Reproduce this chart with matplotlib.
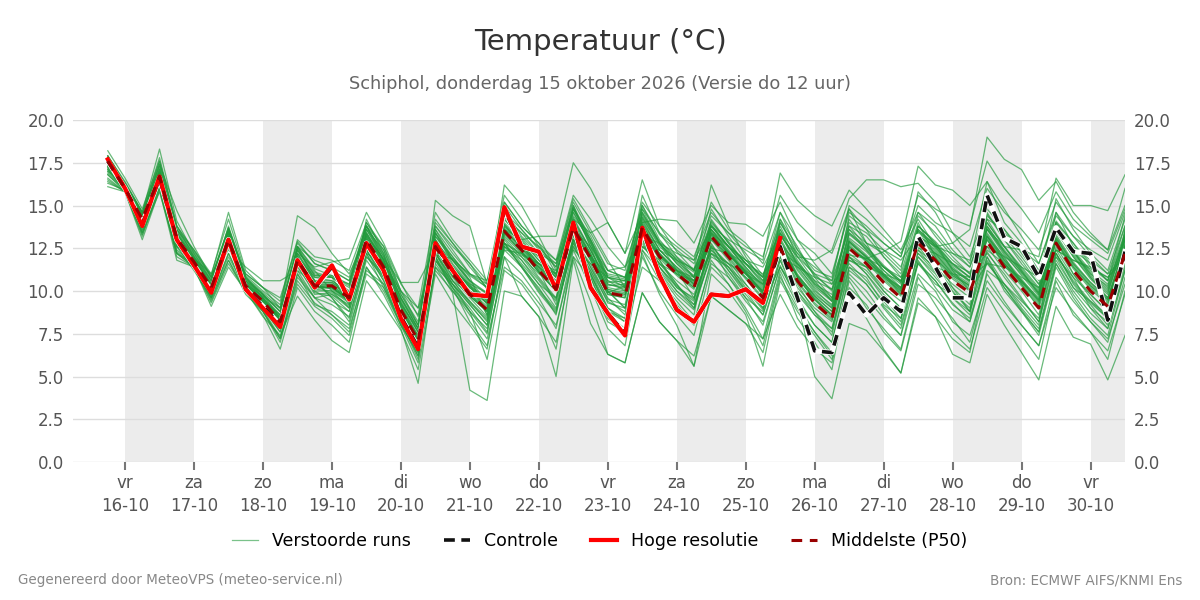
import numpy as np
import pandas as pd
import matplotlib
matplotlib.use('Agg')
import matplotlib.pyplot as plt

# 6-hourly steps, run of do 15-10 12 UTC
times = pd.date_range('2026-10-15 18:00', periods=60, freq='6h')
day_ticks = pd.date_range('2026-10-16', '2026-10-30', freq='D')
weekdays = ['ma', 'di', 'wo', 'do', 'vr', 'za', 'zo']

# hoge resolutie (runs out after 10 days)
hres = [17.7, 16.0, 13.8, 16.7, 13.0, 11.5, 9.9, 13.0, 10.1, 9.0, 7.9, 11.8, 10.2, 11.5, 9.5, 12.8, 11.2, 8.4, 6.6, 12.8,
        11.2, 9.8, 9.7, 14.9, 12.6, 12.3, 10.1, 14.0, 10.2, 8.7, 7.4, 13.7, 10.9, 8.9, 8.2, 9.8, 9.7, 10.1, 9.3, 13.1]

controle = [17.6, 16.0, 13.9, 16.6, 13.0, 11.5, 10.0, 13.0, 10.1, 9.1, 8.0, 11.8, 10.2, 11.4, 9.5, 12.8, 11.2, 8.5, 6.7, 12.7,
            11.2, 9.8, 9.7, 14.8, 12.6, 12.3, 10.1, 13.9, 10.2, 8.7, 7.5, 13.6, 10.9, 8.9, 8.2, 9.8, 9.7, 10.1, 9.3, 12.6,
            9.6, 6.5, 6.4, 9.9, 8.6, 9.6, 8.8, 13.2, 11.4, 9.6, 9.6, 15.6, 13.1, 12.6, 10.8, 13.7, 12.3, 12.2, 8.3, 12.3]

p50 = [17.6, 16.0, 14.2, 16.7, 13.1, 11.7, 10.2, 13.0, 10.3, 9.4, 8.2, 11.8, 10.3, 10.3, 9.6, 13.0, 11.4, 8.9, 7.1, 12.6,
       11.0, 9.8, 8.9, 13.5, 12.4, 11.2, 10.1, 13.7, 11.9, 9.9, 9.7, 13.7, 12.0, 11.0, 10.2, 13.2, 12.0, 10.8, 9.6, 12.5,
       10.6, 9.3, 8.4, 12.5, 11.6, 10.5, 9.6, 12.8, 11.8, 10.6, 9.9, 12.9, 11.4, 10.2, 9.0, 12.8, 11.2, 10.0, 9.1, 12.2]

# verstoorde runs (perturbed members)
members = [
    [17.8, 16.2, 14.4, 17.0, 13.4, 11.9, 10.5, 13.4, 10.6, 9.7, 8.6, 12.2, 10.8, 10.6, 9.9, 13.4, 11.8, 9.3, 7.6, 13.0,
     11.5, 10.3, 9.4, 14.0, 12.9, 11.8, 10.8, 14.3, 12.4, 10.6, 10.3, 14.3, 12.6, 11.7, 10.9, 13.8, 12.6, 11.4, 10.3, 13.1,
     11.3, 10.0, 9.2, 13.1, 12.3, 11.2, 10.4, 13.5, 12.5, 11.3, 10.6, 13.6, 12.1, 11.0, 9.8, 13.5, 12.0, 10.8, 9.9, 13.0],
    [17.4, 15.9, 13.9, 16.4, 12.8, 11.5, 9.9, 12.7, 10.1, 9.1, 7.8, 11.5, 9.8, 9.9, 9.1, 12.6, 11.0, 8.5, 6.6, 12.3,
     10.6, 9.3, 8.3, 13.1, 12.0, 10.7, 9.5, 13.3, 11.4, 9.3, 9.0, 13.2, 11.4, 10.3, 9.5, 12.7, 11.4, 10.1, 8.9, 12.0,
     10.0, 8.6, 7.6, 12.0, 11.0, 9.8, 8.8, 12.2, 11.1, 9.9, 9.0, 12.3, 10.8, 9.5, 8.2, 12.2, 10.5, 9.3, 8.4, 11.7],
    [18.2, 16.6, 14.8, 17.6, 13.8, 12.3, 10.9, 14.6, 11.2, 10.2, 9.0, 12.4, 10.9, 10.9, 10.3, 13.8, 12.1, 9.5, 7.8, 13.2,
     12.0, 10.6, 9.9, 14.2, 13.1, 12.0, 11.0, 14.6, 12.8, 10.5, 10.6, 14.5, 12.8, 11.8, 11.1, 14.0, 12.9, 11.6, 10.4, 13.3,
     11.7, 10.5, 9.6, 13.4, 12.6, 11.5, 10.6, 13.8, 12.9, 11.8, 11.0, 14.0, 12.6, 11.3, 10.1, 13.9, 12.3, 11.0, 10.3, 13.3],
    [17.9, 16.4, 14.6, 18.3, 14.1, 12.2, 10.8, 13.5, 10.5, 9.6, 8.4, 11.6, 9.9, 9.7, 8.8, 12.4, 10.6, 8.2, 6.2, 12.0,
     10.2, 8.8, 7.5, 12.6, 11.5, 10.1, 8.9, 12.9, 11.0, 8.8, 8.4, 12.8, 11.1, 9.8, 8.9, 12.2, 11.0, 9.6, 8.0, 11.5,
     9.4, 8.0, 7.0, 11.4, 10.4, 9.1, 8.0, 11.7, 10.6, 9.3, 8.2, 11.7, 10.2, 8.9, 7.6, 11.6, 10.0, 8.7, 7.8, 11.2],
    [17.3, 16.1, 14.5, 17.4, 14.7, 12.6, 10.8, 13.7, 10.8, 9.9, 9.0, 12.6, 11.3, 10.9, 10.4, 14.0, 12.4, 9.8, 8.2, 13.8,
     12.6, 11.6, 10.1, 15.0, 13.6, 12.5, 11.6, 15.2, 13.4, 11.6, 11.2, 15.0, 13.3, 12.4, 11.6, 14.4, 13.4, 12.2, 10.9, 14.0,
     12.2, 10.9, 10.1, 13.8, 13.2, 12.0, 11.0, 14.4, 13.4, 12.2, 11.4, 14.5, 13.0, 11.6, 10.4, 14.1, 12.8, 11.4, 10.6, 13.8],
    [17.1, 15.9, 14.0, 16.2, 12.6, 11.9, 11.0, 12.4, 11.4, 10.6, 10.6, 11.2, 10.4, 10.1, 9.4, 12.2, 11.6, 10.0, 9.0, 12.1,
     11.9, 10.9, 10.2, 12.8, 12.1, 11.6, 11.0, 13.0, 12.0, 11.0, 10.8, 12.6, 12.4, 11.8, 11.3, 12.5, 12.2, 11.6, 11.0, 12.3,
     11.6, 10.6, 10.1, 12.1, 11.9, 11.4, 10.8, 12.5, 12.2, 11.6, 11.1, 12.6, 12.0, 11.4, 10.8, 12.4, 11.8, 11.3, 10.8, 12.1],
    [17.5, 16.1, 14.3, 16.9, 13.2, 11.8, 10.3, 13.2, 10.4, 9.7, 9.0, 14.4, 13.7, 12.2, 11.0, 13.2, 11.2, 8.6, 6.9, 12.4,
     11.4, 10.2, 9.5, 13.9, 12.7, 11.5, 10.4, 14.0, 12.2, 10.2, 10.0, 14.1, 12.4, 11.3, 10.5, 13.6, 12.3, 11.1, 9.9, 12.9,
     10.9, 9.7, 8.8, 12.9, 12.0, 10.9, 10.1, 13.2, 12.2, 11.0, 10.3, 13.3, 11.8, 10.6, 9.4, 13.1, 11.6, 10.5, 9.6, 12.6],
    [17.7, 16.2, 14.1, 16.8, 13.0, 11.6, 10.1, 13.1, 10.2, 9.5, 8.6, 12.2, 11.4, 11.7, 11.9, 14.6, 12.8, 10.5, 8.5, 13.4,
     11.8, 10.5, 9.2, 13.6, 12.5, 11.4, 10.3, 13.8, 12.1, 10.1, 9.8, 13.9, 12.2, 11.2, 10.4, 13.4, 12.2, 11.0, 9.8, 12.7,
     10.8, 9.5, 8.6, 12.7, 11.8, 10.7, 9.8, 13.0, 12.0, 10.8, 10.1, 13.1, 11.6, 10.4, 9.2, 13.0, 11.4, 10.2, 9.3, 12.4],
    [17.6, 16.1, 14.3, 16.7, 13.1, 11.8, 10.4, 13.1, 10.4, 9.5, 8.3, 11.9, 10.4, 10.4, 9.8, 13.2, 11.9, 10.5, 10.5, 12.4,
     11.2, 10.4, 9.9, 12.8, 12.2, 11.4, 10.6, 13.4, 12.0, 10.3, 10.4, 13.4, 12.1, 11.2, 10.6, 13.0, 12.1, 11.0, 10.0, 12.6,
     10.9, 9.8, 9.0, 12.6, 11.8, 10.8, 10.0, 12.9, 11.9, 10.9, 10.3, 13.0, 11.6, 10.5, 9.5, 12.9, 11.4, 10.3, 9.5, 12.4],
    [17.5, 15.9, 14.0, 16.6, 13.0, 11.6, 10.0, 12.9, 10.2, 9.3, 8.0, 11.7, 10.2, 10.2, 9.4, 12.9, 11.3, 8.8, 7.4, 15.3,
     14.4, 13.8, 10.4, 14.3, 13.4, 12.2, 10.9, 14.8, 13.0, 10.9, 10.7, 14.6, 12.9, 12.0, 11.2, 14.1, 12.8, 11.6, 10.5, 13.4,
     11.6, 10.3, 9.5, 13.3, 12.5, 11.4, 10.5, 13.6, 12.7, 11.6, 10.8, 13.8, 12.3, 11.1, 9.9, 13.7, 12.2, 11.0, 10.1, 13.2],
    [17.7, 16.0, 14.2, 16.8, 13.2, 11.8, 10.3, 13.1, 10.3, 9.4, 8.3, 11.8, 10.3, 10.2, 9.5, 13.1, 11.6, 9.1, 7.3, 12.9,
     11.4, 10.3, 9.6, 16.2, 15.0, 13.2, 11.2, 14.9, 12.9, 10.6, 10.0, 14.2, 12.4, 11.4, 10.4, 13.5, 12.3, 11.1, 9.9, 12.8,
     10.9, 9.6, 8.6, 12.9, 11.9, 10.8, 9.9, 13.1, 12.1, 10.9, 10.2, 13.2, 11.7, 10.5, 9.3, 13.1, 11.5, 10.3, 9.4, 12.5],
    [17.6, 16.0, 14.1, 16.6, 13.0, 11.6, 10.1, 12.9, 10.2, 9.3, 8.1, 11.7, 10.2, 10.2, 9.5, 12.9, 11.3, 8.8, 7.0, 12.5,
     11.0, 10.0, 9.3, 13.6, 13.0, 13.2, 13.2, 17.5, 16.0, 14.0, 12.2, 14.4, 12.8, 11.6, 10.6, 13.3, 12.2, 11.1, 9.9, 12.6,
     10.8, 9.5, 8.5, 12.6, 11.7, 10.6, 9.7, 12.9, 11.9, 10.7, 10.0, 13.0, 11.5, 10.3, 9.1, 12.9, 11.3, 10.1, 9.2, 12.3],
    [17.5, 16.0, 14.2, 16.7, 13.1, 11.7, 10.2, 13.0, 10.3, 9.4, 8.2, 11.8, 10.3, 10.3, 9.6, 13.0, 11.4, 8.9, 7.1, 12.6,
     11.0, 9.8, 8.9, 13.5, 12.6, 11.6, 11.0, 14.2, 13.4, 14.0, 12.2, 16.5, 13.8, 12.3, 11.2, 13.9, 12.6, 11.3, 10.1, 13.0,
     11.2, 9.9, 9.0, 13.0, 12.1, 11.0, 10.1, 13.3, 12.3, 11.1, 10.4, 13.4, 11.9, 10.7, 9.5, 13.3, 11.7, 10.5, 9.6, 12.7],
    [17.4, 15.9, 14.0, 16.5, 12.9, 11.6, 10.1, 12.9, 10.2, 9.3, 8.1, 11.7, 10.2, 10.2, 9.5, 12.8, 11.2, 8.8, 7.0, 12.4,
     10.9, 9.7, 8.8, 13.3, 12.3, 11.1, 10.0, 13.6, 11.9, 9.9, 10.3, 14.0, 14.2, 14.1, 12.8, 15.0, 14.0, 13.9, 13.2, 15.2,
     13.0, 11.6, 10.4, 13.8, 12.6, 11.4, 10.5, 13.5, 12.7, 11.5, 10.8, 13.6, 12.3, 11.1, 9.9, 13.5, 12.1, 10.9, 10.0, 13.0],
    [17.8, 16.1, 14.3, 16.9, 13.3, 11.8, 10.3, 13.2, 10.4, 9.5, 8.4, 12.0, 10.5, 10.5, 9.8, 13.3, 11.7, 9.2, 7.4, 13.0,
     11.4, 10.2, 9.3, 13.9, 12.8, 11.6, 10.5, 14.1, 12.4, 10.4, 10.2, 14.3, 12.7, 11.9, 11.2, 16.2, 13.8, 12.0, 10.6, 13.6,
     11.5, 10.1, 9.1, 13.4, 12.4, 11.2, 10.2, 13.6, 12.6, 11.3, 10.5, 13.7, 12.2, 10.9, 9.7, 13.6, 12.0, 10.7, 9.8, 13.1],
    [17.6, 16.0, 14.1, 16.6, 13.0, 11.6, 10.1, 12.9, 10.2, 9.3, 8.1, 11.6, 10.2, 10.2, 9.5, 12.9, 11.3, 8.8, 7.0, 12.5,
     10.9, 9.7, 8.8, 13.4, 12.3, 11.1, 10.0, 13.6, 11.8, 9.8, 9.6, 13.6, 12.0, 11.2, 10.8, 13.8, 13.0, 12.4, 11.8, 16.9,
     15.3, 14.4, 13.8, 15.9, 14.8, 13.6, 12.4, 14.6, 13.8, 12.4, 11.4, 14.2, 12.6, 11.4, 10.2, 13.8, 12.3, 11.1, 10.2, 13.2],
    [17.7, 16.1, 14.3, 16.8, 13.2, 11.8, 10.3, 13.1, 10.3, 9.4, 8.3, 11.9, 10.4, 10.4, 9.7, 13.1, 11.5, 9.0, 7.2, 12.7,
     11.1, 9.9, 9.0, 13.6, 12.5, 11.3, 10.2, 13.8, 12.0, 10.0, 9.8, 13.8, 12.1, 11.1, 10.3, 13.3, 12.1, 11.2, 10.4, 13.2,
     12.0, 11.8, 12.4, 15.4, 16.5, 16.5, 16.1, 16.3, 15.2, 13.4, 12.0, 14.8, 13.6, 12.2, 10.8, 14.0, 12.8, 11.6, 10.6, 13.4],
    [17.5, 15.9, 14.0, 16.6, 13.0, 11.6, 10.1, 12.9, 10.2, 9.3, 8.1, 11.7, 10.2, 10.2, 9.5, 12.9, 11.3, 8.8, 7.0, 12.5,
     10.9, 9.7, 8.8, 13.4, 12.3, 11.1, 10.0, 13.6, 11.8, 9.8, 9.6, 13.6, 11.9, 10.9, 10.1, 13.1, 11.9, 10.7, 9.5, 12.4,
     10.5, 9.2, 8.3, 12.4, 11.9, 12.3, 12.9, 17.3, 16.2, 15.9, 15.0, 16.4, 14.8, 13.2, 11.6, 14.6, 13.2, 12.0, 11.0, 13.8],
    [17.6, 16.0, 14.2, 16.7, 13.1, 11.7, 10.2, 13.0, 10.3, 9.4, 8.2, 11.8, 10.3, 10.3, 9.6, 13.0, 11.4, 8.9, 7.1, 12.6,
     11.0, 9.8, 8.9, 13.5, 12.4, 11.2, 10.1, 13.7, 11.9, 9.9, 9.7, 13.7, 12.0, 11.0, 10.2, 13.2, 12.0, 10.8, 9.6, 12.5,
     10.6, 9.3, 8.4, 12.5, 11.8, 10.9, 10.2, 13.4, 12.6, 12.8, 13.6, 19.0, 17.7, 17.1, 15.3, 16.4, 14.6, 13.4, 12.4, 15.0],
    [17.7, 16.1, 14.3, 16.9, 13.3, 11.8, 10.3, 13.2, 10.4, 9.5, 8.4, 12.0, 10.5, 10.5, 9.8, 13.3, 11.6, 9.1, 7.3, 12.8,
     11.3, 10.0, 9.1, 13.7, 12.6, 11.4, 10.3, 13.9, 12.1, 10.1, 9.9, 13.9, 12.2, 11.2, 10.4, 13.4, 12.2, 11.0, 9.8, 12.7,
     10.8, 9.5, 8.6, 12.8, 12.0, 11.0, 10.2, 13.3, 12.4, 11.2, 10.6, 13.6, 12.6, 12.4, 12.0, 16.6, 15.0, 15.0, 14.7, 16.8],
    [16.4, 15.8, 13.2, 16.1, 12.0, 11.4, 9.3, 11.6, 10.0, 8.6, 6.6, 10.2, 8.8, 8.0, 7.0, 11.4, 9.8, 7.8, 4.6, 11.6,
     10.2, 9.0, 7.6, 12.4, 11.4, 10.0, 8.8, 12.8, 11.2, 9.0, 8.4, 13.0, 11.6, 10.4, 9.2, 12.0, 11.4, 10.0, 8.6, 11.8,
     9.4, 5.0, 3.7, 8.1, 7.7, 6.5, 5.2, 9.3, 8.5, 7.2, 6.4, 11.2, 10.4, 9.0, 7.8, 11.8, 10.2, 9.0, 7.8, 11.4],
    [16.1, 15.8, 13.0, 15.9, 11.8, 11.4, 9.1, 11.4, 10.0, 8.5, 7.4, 9.7, 8.3, 7.1, 6.4, 10.6, 9.2, 7.7, 5.4, 11.0,
     9.3, 8.0, 6.6, 12.0, 9.7, 8.5, 5.0, 11.8, 8.1, 6.3, 5.8, 9.9, 8.2, 7.1, 5.6, 9.7, 8.9, 8.1, 6.4, 10.8,
     9.0, 7.6, 6.2, 11.0, 10.0, 8.6, 7.4, 11.8, 10.2, 8.9, 8.2, 12.0, 10.0, 8.8, 7.6, 11.6, 9.8, 8.4, 7.4, 11.2],
    [16.3, 15.9, 13.4, 16.2, 12.2, 11.6, 9.6, 12.0, 10.1, 8.8, 7.2, 10.4, 9.1, 8.4, 7.4, 11.0, 10.2, 8.2, 6.2, 11.4,
     9.9, 4.2, 3.6, 10.0, 9.7, 8.5, 7.0, 12.0, 10.8, 8.4, 7.6, 11.4, 10.6, 9.4, 8.2, 11.6, 10.8, 9.4, 8.2, 11.4,
     9.6, 8.0, 7.0, 11.2, 10.4, 9.0, 7.8, 11.6, 10.6, 9.2, 8.4, 11.8, 10.2, 8.8, 7.4, 11.4, 9.6, 8.2, 7.0, 10.8],
    [17.0, 15.9, 13.6, 16.4, 12.4, 11.6, 9.7, 12.2, 10.1, 9.0, 7.6, 11.0, 9.6, 9.2, 8.5, 12.0, 10.8, 8.4, 6.8, 12.0,
     10.4, 9.2, 8.0, 12.8, 11.4, 9.9, 8.7, 12.8, 10.5, 8.2, 7.6, 12.2, 9.8, 8.0, 5.6, 11.0, 10.0, 8.6, 5.6, 10.6,
     8.8, 7.4, 6.0, 9.8, 8.4, 6.6, 5.2, 9.6, 8.5, 6.3, 5.8, 9.8, 8.0, 6.4, 4.8, 9.1, 7.3, 6.9, 4.8, 7.4],
    [16.8, 15.8, 13.5, 16.3, 12.3, 11.5, 9.5, 11.8, 10.0, 8.9, 7.3, 10.6, 9.3, 8.6, 7.8, 11.2, 10.4, 8.0, 6.4, 11.2,
     10.0, 8.6, 7.2, 11.4, 10.6, 9.3, 8.0, 12.0, 9.4, 6.3, 5.8, 9.9, 8.2, 7.1, 6.2, 9.7, 8.9, 8.1, 7.2, 9.8,
     7.9, 6.6, 5.8, 10.2, 9.2, 7.6, 6.5, 10.4, 9.6, 8.4, 7.0, 11.0, 9.4, 8.0, 6.8, 10.2, 8.8, 7.6, 6.5, 9.8],
    [17.3, 16.0, 14.4, 17.1, 13.5, 12.0, 10.6, 13.6, 10.7, 9.8, 8.8, 12.5, 11.1, 10.8, 9.2, 12.4, 10.9, 8.4, 6.8, 13.4,
     12.0, 10.8, 8.6, 12.6, 11.8, 10.6, 9.4, 13.0, 11.2, 9.4, 8.8, 12.9, 11.4, 10.2, 9.4, 14.2, 12.8, 11.6, 10.8, 14.2,
     12.0, 10.6, 9.4, 12.0, 11.0, 9.6, 8.4, 12.0, 11.0, 9.6, 8.8, 14.4, 13.4, 12.4, 10.8, 12.2, 10.4, 9.2, 8.0, 13.6],
    [17.9, 16.3, 14.6, 17.3, 13.6, 12.1, 10.7, 13.7, 10.9, 10.0, 9.2, 12.9, 11.6, 11.2, 10.6, 13.8, 12.2, 9.8, 8.0, 13.6,
     12.2, 11.0, 10.4, 14.6, 13.6, 12.4, 11.4, 14.8, 12.6, 10.0, 9.0, 12.4, 11.2, 10.0, 9.0, 12.2, 11.4, 10.4, 9.2, 12.8,
     11.6, 10.4, 9.8, 14.0, 13.4, 12.4, 11.4, 14.6, 13.2, 12.0, 11.0, 12.2, 11.0, 9.6, 8.2, 12.0, 10.8, 9.8, 8.8, 12.6],
    [17.2, 15.8, 13.8, 16.3, 12.7, 11.4, 9.8, 12.6, 10.0, 9.1, 7.9, 11.2, 9.6, 9.8, 9.2, 13.6, 11.8, 9.6, 7.8, 11.8,
     10.4, 9.4, 8.4, 12.6, 12.0, 11.0, 10.4, 14.8, 13.2, 11.2, 10.8, 13.0, 11.6, 10.6, 9.8, 12.4, 11.2, 10.0, 9.4, 11.4,
     10.0, 8.8, 7.4, 11.8, 11.2, 10.0, 9.0, 11.6, 10.4, 9.8, 9.6, 12.4, 11.6, 10.6, 9.6, 14.6, 12.6, 11.8, 11.0, 12.0],
    [17.4, 16.0, 14.0, 16.5, 12.9, 11.6, 10.0, 12.8, 10.1, 9.2, 8.0, 11.6, 10.1, 10.0, 9.3, 12.7, 11.1, 8.7, 6.9, 12.2,
     10.8, 9.6, 8.5, 13.2, 12.2, 10.8, 9.6, 13.0, 11.6, 9.5, 9.2, 13.4, 12.2, 11.0, 10.2, 13.0, 11.8, 10.4, 9.0, 12.0,
     10.2, 9.0, 8.2, 12.2, 11.4, 10.2, 9.4, 12.6, 11.4, 10.4, 9.6, 12.6, 11.2, 10.0, 8.6, 12.6, 11.0, 9.8, 8.8, 11.8],
    [17.8, 16.2, 14.4, 16.9, 13.3, 11.9, 10.4, 13.3, 10.5, 9.6, 8.5, 12.1, 10.6, 10.6, 9.9, 13.4, 11.8, 9.3, 7.6, 13.0,
     11.4, 10.2, 9.3, 13.8, 12.8, 11.6, 10.6, 14.2, 12.4, 10.4, 10.1, 14.0, 12.4, 11.4, 10.6, 13.6, 12.4, 11.2, 10.0, 12.9,
     11.0, 9.7, 8.8, 12.9, 12.0, 10.9, 10.0, 13.1, 12.2, 11.0, 10.3, 13.2, 11.8, 10.6, 9.4, 13.2, 11.6, 10.4, 9.5, 12.6],
    [17.0, 16.3, 14.6, 16.0, 13.6, 12.4, 10.8, 12.8, 11.0, 10.2, 9.6, 12.8, 11.6, 11.2, 10.6, 13.6, 12.4, 10.0, 8.6, 14.0,
     12.8, 11.6, 10.4, 15.2, 13.8, 12.8, 11.8, 15.6, 14.2, 12.6, 11.4, 14.8, 13.4, 12.6, 11.8, 15.2, 13.6, 12.8, 11.6, 14.6,
     13.0, 12.2, 11.0, 14.6, 13.8, 12.8, 12.0, 15.0, 14.0, 13.4, 12.6, 16.0, 14.6, 13.6, 12.4, 15.2, 13.8, 13.0, 12.2, 14.8],
    [16.6, 15.8, 13.4, 15.8, 12.2, 11.4, 9.6, 12.2, 10.0, 8.8, 7.2, 11.0, 9.2, 8.8, 8.0, 11.8, 10.4, 8.2, 6.0, 11.8,
     10.2, 8.2, 6.8, 12.0, 11.0, 9.6, 7.8, 12.6, 10.8, 8.6, 7.8, 12.4, 10.6, 9.2, 8.0, 11.8, 10.4, 9.0, 7.2, 11.2,
     9.2, 7.6, 6.4, 10.8, 9.6, 8.4, 7.4, 11.0, 10.0, 8.2, 7.4, 10.6, 9.2, 8.0, 6.8, 10.8, 9.4, 8.2, 7.2, 10.4],
    [17.2, 16.0, 14.4, 17.6, 13.8, 12.0, 10.4, 13.8, 10.8, 9.8, 8.4, 12.6, 11.2, 10.0, 9.0, 14.2, 12.2, 9.2, 7.8, 14.2,
     12.8, 11.4, 10.2, 14.8, 13.2, 12.2, 11.6, 15.4, 13.6, 11.8, 10.2, 15.6, 13.4, 12.0, 10.8, 13.4, 12.6, 11.8, 10.8, 14.6,
     12.4, 11.2, 10.8, 14.8, 12.8, 12.2, 11.2, 15.8, 14.6, 12.8, 11.6, 16.4, 14.0, 12.8, 11.2, 13.8, 12.4, 11.6, 10.6, 14.4],
    [16.9, 15.9, 13.8, 16.8, 12.6, 11.2, 9.6, 13.6, 10.4, 9.2, 7.8, 12.6, 10.6, 9.6, 8.4, 12.2, 10.2, 8.0, 6.4, 12.0,
     10.0, 8.8, 7.8, 12.8, 11.6, 10.4, 9.0, 12.6, 11.0, 9.0, 8.2, 14.8, 12.8, 11.2, 9.6, 12.6, 11.6, 10.2, 9.0, 14.2,
     12.6, 10.8, 9.6, 11.6, 10.6, 9.4, 8.2, 13.8, 12.8, 11.2, 10.0, 11.6, 10.4, 9.2, 8.0, 14.0, 12.4, 10.8, 9.6, 12.0],
    [17.3, 16.1, 14.3, 17.2, 13.4, 11.6, 10.0, 13.6, 10.8, 9.6, 8.0, 12.4, 11.0, 10.8, 10.2, 13.8, 11.8, 9.4, 7.6, 13.6,
     11.8, 10.6, 9.8, 14.6, 12.8, 11.2, 9.2, 13.0, 11.0, 8.8, 8.2, 13.2, 11.0, 9.6, 8.6, 13.8, 12.6, 11.6, 10.6, 13.8,
     11.8, 10.4, 9.4, 14.4, 13.6, 12.0, 10.8, 14.0, 12.0, 10.2, 8.8, 13.8, 12.4, 11.2, 9.8, 13.0, 11.0, 9.6, 8.4, 13.6],
    [17.6, 16.2, 14.5, 17.4, 13.6, 12.2, 10.6, 13.4, 10.6, 9.8, 8.8, 12.6, 11.8, 11.4, 10.8, 13.8, 12.0, 9.6, 8.0, 13.8,
     12.4, 11.0, 10.2, 15.2, 13.8, 12.8, 11.0, 14.6, 12.8, 10.8, 10.2, 15.0, 13.0, 11.8, 10.8, 14.8, 13.2, 11.8, 10.8, 13.6,
     12.0, 11.0, 10.6, 15.0, 14.2, 13.2, 12.2, 14.2, 12.6, 11.4, 10.6, 15.4, 13.2, 12.0, 10.6, 15.4, 13.6, 12.2, 11.2, 14.2],
    [16.8, 15.9, 13.7, 16.6, 12.8, 11.4, 9.8, 12.8, 10.2, 9.0, 7.6, 11.6, 10.0, 9.4, 8.8, 12.4, 10.8, 8.4, 6.6, 12.2,
     10.6, 9.4, 8.2, 12.8, 11.4, 10.2, 8.6, 13.2, 11.4, 9.6, 8.6, 12.6, 11.8, 10.4, 9.0, 12.6, 10.8, 9.6, 8.8, 12.2,
     10.4, 8.8, 7.8, 11.4, 10.8, 9.2, 8.4, 12.4, 11.6, 10.0, 8.8, 12.0, 10.4, 9.4, 8.4, 12.4, 10.8, 9.0, 8.2, 11.6],
    [17.5, 16.0, 14.0, 16.9, 13.0, 11.6, 10.0, 13.2, 10.2, 9.2, 7.8, 12.0, 10.4, 9.8, 9.0, 13.4, 11.6, 8.8, 6.8, 13.4,
     11.6, 10.4, 8.6, 13.8, 12.8, 12.0, 10.8, 15.0, 12.6, 10.8, 10.6, 13.6, 11.8, 10.2, 9.6, 12.4, 11.6, 10.8, 10.0, 14.0,
     12.4, 11.0, 10.0, 14.2, 12.8, 11.0, 9.8, 12.4, 11.2, 10.2, 9.2, 14.6, 13.0, 11.8, 10.4, 12.0, 10.2, 9.4, 8.6, 13.0],
    [17.9, 16.3, 14.6, 17.8, 13.8, 12.4, 11.0, 14.2, 11.0, 10.2, 9.4, 13.0, 12.0, 11.8, 11.2, 14.0, 12.6, 10.4, 9.0, 14.6,
     13.0, 11.8, 10.6, 15.6, 14.2, 12.6, 11.4, 15.0, 13.0, 11.2, 10.8, 15.2, 13.8, 12.8, 12.0, 14.6, 13.4, 12.6, 12.0, 15.6,
     14.0, 13.0, 12.2, 14.8, 13.6, 12.8, 12.0, 15.6, 14.8, 14.2, 13.8, 17.6, 16.0, 14.8, 13.4, 15.8, 14.2, 13.2, 12.4, 16.0],
    [16.5, 15.8, 13.3, 16.0, 12.2, 11.4, 9.4, 11.8, 9.8, 8.8, 7.0, 10.8, 9.6, 8.6, 7.6, 11.4, 10.0, 8.0, 5.8, 11.4,
     10.4, 8.8, 6.0, 11.2, 10.4, 9.0, 6.6, 12.4, 10.2, 7.8, 6.8, 12.0, 10.0, 8.6, 7.4, 11.4, 10.4, 8.8, 6.8, 11.0,
     8.4, 7.0, 5.4, 10.6, 9.0, 7.8, 6.6, 10.8, 9.2, 7.6, 6.6, 10.2, 8.8, 7.4, 6.0, 10.6, 8.6, 7.6, 6.0, 10.0],
    [17.1, 16.0, 14.0, 16.4, 12.6, 11.6, 10.2, 13.0, 10.4, 9.4, 8.4, 12.0, 10.8, 10.8, 10.4, 13.8, 12.6, 10.0, 8.0, 12.8,
     11.8, 11.0, 10.6, 14.4, 13.4, 12.6, 11.8, 13.6, 12.6, 11.2, 11.4, 13.2, 12.8, 12.2, 11.8, 13.6, 12.6, 11.8, 11.4, 13.4,
     12.2, 11.4, 10.6, 13.6, 12.8, 12.4, 11.8, 13.2, 12.6, 12.2, 11.8, 14.2, 13.6, 12.4, 11.6, 14.4, 13.2, 12.4, 11.8, 14.6],
    [17.6, 16.1, 14.2, 16.6, 13.0, 11.8, 10.2, 12.8, 10.2, 9.4, 8.6, 11.4, 10.0, 10.0, 9.4, 12.2, 10.6, 8.4, 7.2, 11.8,
     10.6, 9.8, 9.6, 12.4, 12.2, 11.6, 11.2, 12.4, 11.6, 10.8, 10.6, 12.6, 11.6, 11.0, 10.6, 12.2, 11.6, 11.0, 10.4, 12.0,
     11.4, 10.8, 10.4, 11.8, 11.4, 11.0, 10.6, 12.2, 11.4, 11.0, 10.8, 11.6, 11.4, 10.8, 10.2, 12.4, 11.8, 11.4, 10.8, 11.8],
    [17.4, 16.0, 14.1, 16.9, 13.2, 11.7, 10.2, 13.4, 10.6, 9.6, 8.4, 12.2, 10.6, 9.6, 8.2, 12.0, 11.0, 8.6, 7.0, 12.2,
     10.4, 9.2, 8.0, 13.0, 11.8, 10.4, 9.6, 13.8, 12.2, 10.0, 9.0, 13.4, 11.4, 10.0, 9.2, 12.8, 11.2, 9.8, 8.6, 11.8,
     9.8, 8.6, 7.8, 12.0, 11.4, 10.0, 9.0, 12.0, 10.8, 9.6, 8.6, 13.2, 12.0, 10.4, 9.0, 12.2, 10.6, 9.4, 8.4, 12.8],
    [17.7, 16.1, 14.4, 17.1, 13.4, 12.0, 10.6, 13.6, 10.7, 9.8, 8.8, 12.4, 10.9, 10.8, 10.0, 13.6, 12.0, 9.6, 7.8, 13.2,
     11.8, 10.6, 9.4, 14.2, 13.0, 11.8, 10.8, 14.4, 13.0, 10.8, 10.4, 14.6, 12.8, 11.6, 10.8, 13.8, 12.6, 11.4, 10.2, 13.4,
     11.4, 10.2, 9.4, 13.6, 12.4, 11.4, 10.6, 13.8, 12.8, 11.6, 10.8, 14.0, 12.6, 11.2, 10.0, 13.8, 12.4, 11.2, 10.4, 13.2],
]

fig = plt.figure(figsize=(12, 6), dpi=100)
ax = fig.add_axes([0.0611, 0.23, 0.8764, 0.57])

# alternating grey day bands
for d in day_ticks[::2]:
    ax.axvspan(d, d + pd.Timedelta(days=1), color='#ececec', lw=0, zorder=0)

for i, m in enumerate(members):
    ax.plot(times, m, color='#229a3c', lw=0.9, alpha=0.68, zorder=2,
            label='Verstoorde runs' if i == 0 else None)

ax.plot(times, controle, color='white', lw=3.8, zorder=3)
ax.plot(times, controle, color='#111111', lw=2.6, ls=(0, (3, 1.8)), zorder=3.1, label='Controle')
ax.plot(times[:len(hres)], hres, color='#ff0000', lw=3, zorder=4, label='Hoge resolutie')
ax.plot(times, p50, color='#990000', lw=2.2, ls=(0, (3.5, 2.5)), zorder=5, label='Middelste (P50)')

ax.set_xlim(pd.Timestamp('2026-10-15 06:00'), pd.Timestamp('2026-10-30 12:00'))
ax.set_ylim(0, 20)
ax.set_yticks(np.arange(0, 20.1, 2.5))
ax.yaxis.set_major_formatter(matplotlib.ticker.FormatStrFormatter('%.1f'))
ax.set_xticks(day_ticks)
ax.set_xticklabels([f'{weekdays[d.weekday()]}\n{d:%d-%m}' for d in day_ticks], linespacing=1.3)
ax.grid(axis='y', color='#dddddd', lw=1, zorder=1)
ax.set_axisbelow(True)
for s in ax.spines.values():
    s.set_visible(False)
ax.tick_params(axis='y', left=False, right=False, labelleft=True, labelright=True,
               labelsize=12, labelcolor='#555555', pad=3)
ax.tick_params(axis='x', length=6, width=1.5, color='#777777', labelsize=12, labelcolor='#555555', pad=3)

fig.text(0.5, 0.93, 'Temperatuur (°C)', ha='center', va='center', fontsize=21, color='#333333')
fig.text(0.5, 0.86, 'Schiphol, donderdag 15 oktober 2026 (Versie do 12 uur)', ha='center', va='center',
         fontsize=12.75, color='#666666')

leg = fig.legend(loc='center', bbox_to_anchor=(0.5, 0.098), ncol=4, frameon=False, fontsize=12.5,
                 handlelength=1.5, columnspacing=1.9)
for h in leg.legend_handles:
    if h.get_label() == 'Verstoorde runs':
        h.set_alpha(0.6)

fig.text(0.015, 0.033, 'Gegenereerd door MeteoVPS (meteo-service.nl)', ha='left', va='center',
         fontsize=9.75, color='#888888')
fig.text(0.985, 0.033, 'Bron: ECMWF AIFS/KNMI Ens', ha='right', va='center', fontsize=9.75, color='#888888')

fig.savefig('out.png', dpi=100)
